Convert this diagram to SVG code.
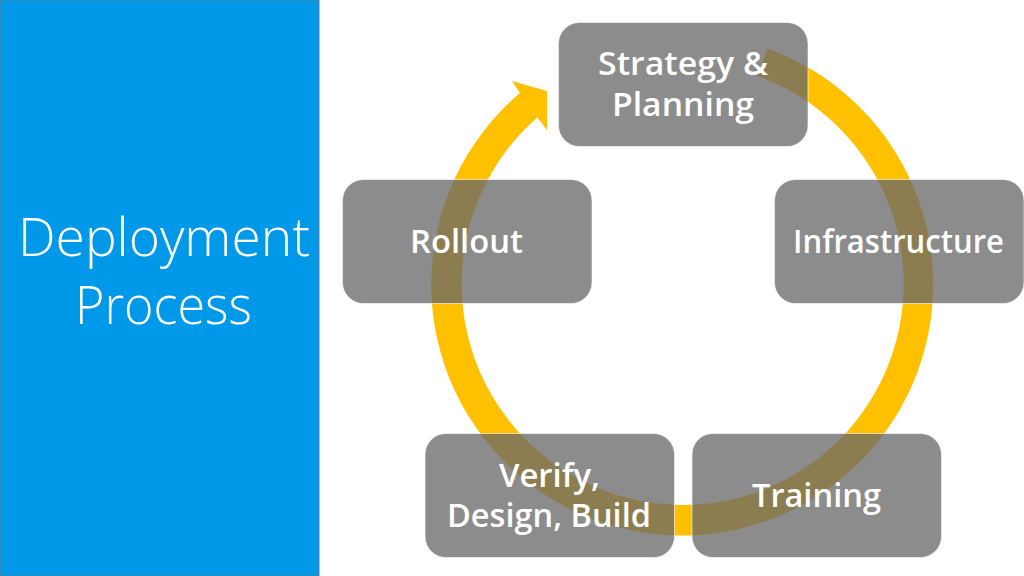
<svg xmlns="http://www.w3.org/2000/svg" width="1024" height="576" viewBox="0 0 1024 576">
<style>
.box{fill:#696969;fill-opacity:.765;stroke:#fff;stroke-opacity:.6;stroke-width:1}
.lbl{font-family:"Open Sans","Noto Sans",sans-serif;font-size:33px;font-weight:600;fill:#fff;text-anchor:middle}
.ttl{font-family:"Open Sans","Noto Sans",sans-serif;font-size:53px;font-weight:300;fill:#fff;text-anchor:middle}
</style>
<rect width="1024" height="576" fill="#fff"/>
<g id="title">
<rect x="0" y="0" width="319" height="576" fill="#0098e9" stroke="#5f7f9f" stroke-width="1"/>
<text class="ttl" x="164" y="256" textLength="292" lengthAdjust="spacingAndGlyphs">Deployment</text>
<text class="ttl" x="163.500" y="324" textLength="177" lengthAdjust="spacingAndGlyphs">Process</text>
</g>
<g id="connectors">
<path d="M767.600 48.500A251 251 0 1 1 520 93L512 81L547 91L547 130L537.500 117.300A221 221 0 1 0 757.500 76Z" fill="#ffc000"/>
</g>
<g id="strategy"><rect class="box" x="558.500" y="22.500" width="249.500" height="124" rx="21"/><text class="lbl" x="683" y="75" textLength="170" lengthAdjust="spacingAndGlyphs">Strategy &amp;</text><text class="lbl" x="683" y="116" textLength="142" lengthAdjust="spacingAndGlyphs">Planning</text></g>
<g id="infrastructure"><rect class="box" x="774.500" y="179.500" width="249.500" height="124" rx="21"/><text class="lbl" x="898.500" y="253" textLength="211" lengthAdjust="spacingAndGlyphs">Infrastructure</text></g>
<g id="training"><rect class="box" x="692" y="433.500" width="249.500" height="124" rx="21"/><text class="lbl" x="816.500" y="507" textLength="129" lengthAdjust="spacingAndGlyphs">Training</text></g>
<g id="verify"><rect class="box" x="425" y="433.500" width="249.500" height="124" rx="21"/><text class="lbl" x="549.500" y="487" textLength="101" lengthAdjust="spacingAndGlyphs">Verify,</text><text class="lbl" x="549" y="527" textLength="204" lengthAdjust="spacingAndGlyphs">Design, Build</text></g>
<g id="rollout"><rect class="box" x="342.500" y="179.500" width="249.500" height="124" rx="21"/><text class="lbl" x="466.500" y="253" textLength="113" lengthAdjust="spacingAndGlyphs">Rollout</text></g>
</svg>
